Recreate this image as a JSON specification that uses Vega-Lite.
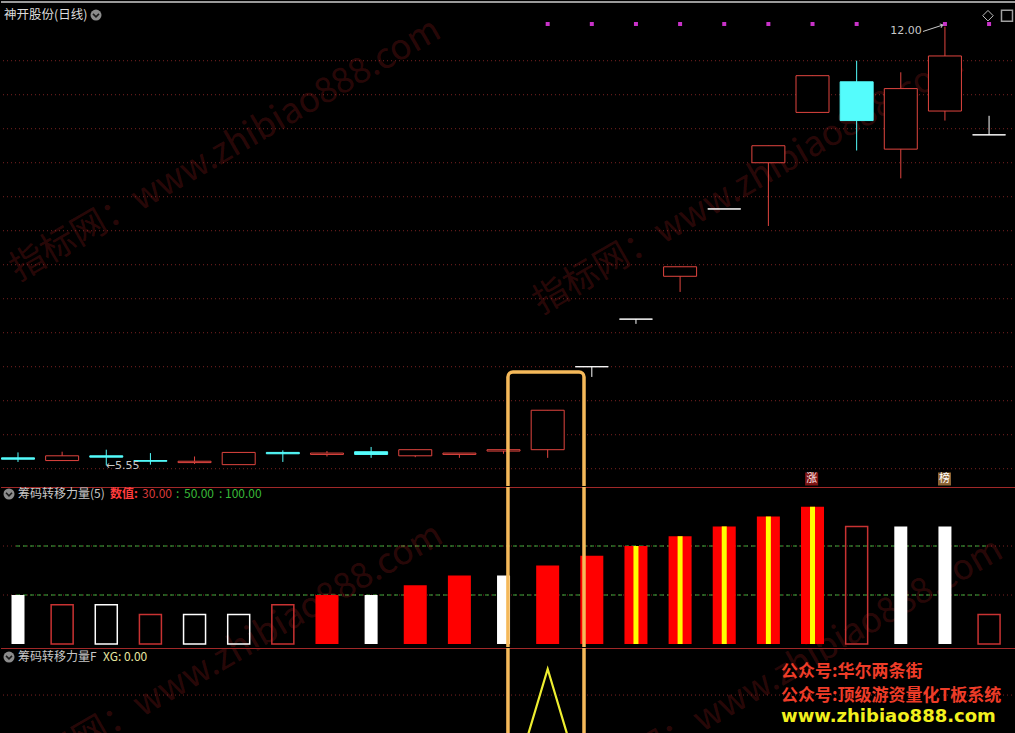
{
  "$schema": "https://vega.github.io/schema/vega-lite/v6.json",
  "background": "#000000",
  "padding": 0,
  "spacing": 0,
  "config": {
    "view": {"stroke": null},
    "axis": {"disable": true},
    "legend": {"disable": true},
    "text": {"font": "Noto Sans CJK SC"},
    "scale": {"continuousPadding": 0},
    "concat": {"spacing": 0}
  },
  "datasets": {
    "candles": [
      {"i": 1, "o": 5.66, "h": 5.74, "l": 5.60, "c": 5.64, "dir": "down"},
      {"i": 2, "o": 5.62, "h": 5.75, "l": 5.62, "c": 5.69, "dir": "up"},
      {"i": 3, "o": 5.69, "h": 5.78, "l": 5.55, "c": 5.67, "dir": "down"},
      {"i": 4, "o": 5.62, "h": 5.73, "l": 5.56, "c": 5.61, "dir": "down"},
      {"i": 5, "o": 5.59, "h": 5.68, "l": 5.57, "c": 5.61, "dir": "up"},
      {"i": 6, "o": 5.56, "h": 5.74, "l": 5.56, "c": 5.74, "dir": "up"},
      {"i": 7, "o": 5.74, "h": 5.77, "l": 5.60, "c": 5.72, "dir": "down"},
      {"i": 8, "o": 5.71, "h": 5.76, "l": 5.68, "c": 5.73, "dir": "up"},
      {"i": 9, "o": 5.75, "h": 5.82, "l": 5.66, "c": 5.71, "dir": "down"},
      {"i": 10, "o": 5.69, "h": 5.78, "l": 5.67, "c": 5.78, "dir": "up"},
      {"i": 11, "o": 5.71, "h": 5.73, "l": 5.66, "c": 5.73, "dir": "up"},
      {"i": 12, "o": 5.76, "h": 5.78, "l": 5.72, "c": 5.78, "dir": "up"},
      {"i": 13, "o": 5.78, "h": 6.36, "l": 5.66, "c": 6.36, "dir": "up"},
      {"i": 14, "o": 7.00, "h": 7.00, "l": 6.85, "c": 7.00, "dir": "flat"},
      {"i": 15, "o": 7.70, "h": 7.70, "l": 7.63, "c": 7.70, "dir": "flat"},
      {"i": 16, "o": 8.33, "h": 8.47, "l": 8.10, "c": 8.47, "dir": "up"},
      {"i": 17, "o": 9.32, "h": 9.32, "l": 9.32, "c": 9.32, "dir": "flat"},
      {"i": 18, "o": 10.00, "h": 10.25, "l": 9.07, "c": 10.25, "dir": "up"},
      {"i": 19, "o": 10.74, "h": 11.28, "l": 10.74, "c": 11.28, "dir": "up"},
      {"i": 20, "o": 11.19, "h": 11.50, "l": 10.18, "c": 10.62, "dir": "down"},
      {"i": 21, "o": 10.20, "h": 11.33, "l": 9.77, "c": 11.09, "dir": "up"},
      {"i": 22, "o": 10.76, "h": 12.00, "l": 10.62, "c": 11.57, "dir": "up"},
      {"i": 23, "o": 10.41, "h": 10.69, "l": 10.41, "c": 10.41, "dir": "flat"}
    ],
    "bars": [
      {"i": 1, "v": 30, "kind": "wf"},
      {"i": 2, "v": 26, "kind": "ro"},
      {"i": 3, "v": 26, "kind": "wo"},
      {"i": 4, "v": 22, "kind": "ro"},
      {"i": 5, "v": 22, "kind": "wo"},
      {"i": 6, "v": 22, "kind": "wo"},
      {"i": 7, "v": 26, "kind": "ro"},
      {"i": 8, "v": 30, "kind": "rf"},
      {"i": 9, "v": 30, "kind": "wf"},
      {"i": 10, "v": 34, "kind": "rf"},
      {"i": 11, "v": 38, "kind": "rf"},
      {"i": 12, "v": 38, "kind": "wf"},
      {"i": 13, "v": 42, "kind": "rf"},
      {"i": 14, "v": 46, "kind": "rf"},
      {"i": 15, "v": 50, "kind": "ry"},
      {"i": 16, "v": 54, "kind": "ry"},
      {"i": 17, "v": 58, "kind": "ry"},
      {"i": 18, "v": 62, "kind": "ry"},
      {"i": 19, "v": 66, "kind": "ry"},
      {"i": 20, "v": 58, "kind": "ro"},
      {"i": 21, "v": 58, "kind": "wf"},
      {"i": 22, "v": 58, "kind": "wf"},
      {"i": 23, "v": 22, "kind": "ro"}
    ],
    "xg": [
      {"i": 1, "xg": 0}, {"i": 2, "xg": 0}, {"i": 3, "xg": 0}, {"i": 4, "xg": 0},
      {"i": 5, "xg": 0}, {"i": 6, "xg": 0}, {"i": 7, "xg": 0}, {"i": 8, "xg": 0},
      {"i": 9, "xg": 0}, {"i": 10, "xg": 0}, {"i": 11, "xg": 0}, {"i": 12, "xg": 0},
      {"i": 13, "xg": 1}, {"i": 14, "xg": 0}, {"i": 15, "xg": 0}, {"i": 16, "xg": 0},
      {"i": 17, "xg": 0}, {"i": 18, "xg": 0}, {"i": 19, "xg": 0}, {"i": 20, "xg": 0},
      {"i": 21, "xg": 0}, {"i": 22, "xg": 0}, {"i": 23, "xg": 0}
    ],
    "sig": [
      {"i": 13}, {"i": 14}, {"i": 15}, {"i": 16}, {"i": 17},
      {"i": 18}, {"i": 19}, {"i": 20}, {"i": 22}, {"i": 23}
    ],
    "grid": [
      {"p": 5.5}, {"p": 6.0}, {"p": 6.5}, {"p": 7.0}, {"p": 7.5}, {"p": 8.0}, {"p": 8.5},
      {"p": 9.0}, {"p": 9.5}, {"p": 10.0}, {"p": 10.5}, {"p": 11.0}, {"p": 11.5}
    ],
    "levels": [{"lv": 30}, {"lv": 50}]
  },
  "vconcat": [
    {
      "width": 1015,
      "height": 486,
      "layer": [
        {
          "data": {"name": "grid"},
          "mark": {"type": "rule", "color": "#7a2222", "strokeDash": [1, 3], "strokeWidth": 1},
          "encoding": {"y": {"field": "p", "type": "quantitative", "scale": {"domain": [5.246, 12.393], "nice": false, "zero": false}}}
        },
        {
          "data": {"values": [{}]},
          "mark": {"type": "rule", "color": "#9a9a9a", "strokeWidth": 2},
          "encoding": {"y": {"datum": 12.365, "type": "quantitative"}}
        },
        {
          "data": {"values": [{}]},
          "mark": {"type": "text", "text": "指标网：www.zhibiao888.com", "angle": -30, "align": "left", "baseline": "middle", "fontSize": 35, "fill": "#ff3333", "fillOpacity": 0.18, "clip": true},
          "encoding": {"x": {"datum": 0.887, "type": "quantitative"}, "y": {"datum": 8.393, "type": "quantitative"}}
        },
        {
          "data": {"values": [{}]},
          "mark": {"type": "text", "text": "指标网：www.zhibiao888.com", "angle": -30, "align": "left", "baseline": "middle", "fontSize": 35, "fill": "#ff3333", "fillOpacity": 0.18, "clip": true},
          "encoding": {"x": {"datum": 12.735, "type": "quantitative"}, "y": {"datum": 7.908, "type": "quantitative"}}
        },
        {
          "data": {"name": "candles"},
          "mark": {"type": "rule", "strokeWidth": 1},
          "encoding": {
            "x": {"field": "i", "type": "quantitative", "scale": {"domain": [0.6149, 23.61], "nice": false, "zero": false, "padding": 0}},
            "y": {"field": "l", "type": "quantitative", "scale": {"domain": [5.246, 12.393], "nice": false, "zero": false}},
            "y2": {"field": "h"},
            "color": {"field": "dir", "type": "nominal", "scale": {"domain": ["up", "down", "flat"], "range": ["#e0453f", "#54fcfc", "#ffffff"]}, "legend": null}
          }
        },
        {
          "data": {"name": "candles"},
          "mark": {"type": "bar", "width": 33, "strokeWidth": 1},
          "encoding": {
            "x": {"field": "i", "type": "quantitative", "scale": {"domain": [0.6149, 23.61], "nice": false, "zero": false, "padding": 0}},
            "y": {"field": "o", "type": "quantitative", "scale": {"domain": [5.246, 12.393], "nice": false, "zero": false}},
            "y2": {"field": "c"},
            "fill": {"field": "dir", "type": "nominal", "scale": {"domain": ["up", "down", "flat"], "range": ["#000000", "#54fcfc", "#ffffff"]}, "legend": null},
            "stroke": {"field": "dir", "type": "nominal", "scale": {"domain": ["up", "down", "flat"], "range": ["#e0453f", "#54fcfc", "#ffffff"]}, "legend": null}
          }
        },
        {
          "data": {"name": "sig"},
          "mark": {"type": "point", "shape": "square", "filled": true, "size": 16, "color": "#c832c8", "opacity": 1},
          "encoding": {
            "x": {"field": "i", "type": "quantitative"},
            "y": {"datum": 12.04, "type": "quantitative"}
          }
        },
        {
          "data": {"values": [{}]},
          "mark": {"type": "text", "text": "←5.55", "align": "left", "baseline": "middle", "fontSize": 11, "font": "DejaVu Sans", "fill": "#c8c8c8"},
          "encoding": {"x": {"datum": 2.99, "type": "quantitative"}, "y": {"datum": 5.54, "type": "quantitative"}}
        },
        {
          "data": {"values": [{}]},
          "mark": {"type": "text", "text": "12.00", "align": "right", "baseline": "middle", "fontSize": 11, "font": "DejaVu Sans", "fill": "#c8c8c8"},
          "encoding": {"x": {"datum": 21.474, "type": "quantitative"}, "y": {"datum": 11.93, "type": "quantitative"}}
        },
        {
          "data": {"values": [{}]},
          "mark": {"type": "rule", "color": "#c8c8c8", "strokeWidth": 1},
          "encoding": {
            "x": {"datum": 21.503, "type": "quantitative"}, "x2": {"datum": 21.95},
            "y": {"datum": 11.93, "type": "quantitative"}, "y2": {"datum": 12.025}
          }
        },
        {
          "data": {"values": [{}]},
          "mark": {"type": "point", "shape": "M-1,-0.8L0,0L-1,0.8", "filled": false, "stroke": "#c8c8c8", "strokeWidth": 1, "size": 25, "angle": -17, "opacity": 1},
          "encoding": {"x": {"datum": 21.95, "type": "quantitative"}, "y": {"datum": 12.025, "type": "quantitative"}}
        },
        {
          "data": {"values": [{}]},
          "mark": {"type": "point", "shape": "square", "filled": true, "size": 169, "color": "#7d1414", "opacity": 1},
          "encoding": {"x": {"datum": 18.98, "type": "quantitative"}, "y": {"datum": 5.349, "type": "quantitative"}}
        },
        {
          "data": {"values": [{}]},
          "mark": {"type": "text", "text": "涨", "align": "center", "baseline": "middle", "fontSize": 11, "fill": "#ffe8e8"},
          "encoding": {"x": {"datum": 18.98, "type": "quantitative"}, "y": {"datum": 5.349, "type": "quantitative"}}
        },
        {
          "data": {"values": [{}]},
          "mark": {"type": "point", "shape": "square", "filled": true, "size": 169, "color": "#8c6434", "opacity": 1},
          "encoding": {"x": {"datum": 21.99, "type": "quantitative"}, "y": {"datum": 5.349, "type": "quantitative"}}
        },
        {
          "data": {"values": [{}]},
          "mark": {"type": "text", "text": "榜", "align": "center", "baseline": "middle", "fontSize": 11, "fill": "#ffffff"},
          "encoding": {"x": {"datum": 21.99, "type": "quantitative"}, "y": {"datum": 5.349, "type": "quantitative"}}
        },
        {
          "data": {"values": [{}]},
          "mark": {"type": "text", "text": "神开股份(日线)", "align": "left", "baseline": "middle", "fontSize": 12.5, "fill": "#dcdcdc"},
          "encoding": {"x": {"datum": 0.683, "type": "quantitative"}, "y": {"datum": 12.172, "type": "quantitative"}}
        },
        {
          "data": {"values": [{}]},
          "mark": {"type": "point", "shape": "circle", "filled": true, "size": 121, "color": "#8c8c8c", "opacity": 1},
          "encoding": {"x": {"datum": 2.767, "type": "quantitative"}, "y": {"datum": 12.172, "type": "quantitative"}}
        },
        {
          "data": {"values": [{}]},
          "mark": {"type": "point", "shape": "M-0.5,-0.2L0,0.3L0.5,-0.2", "filled": false, "stroke": "#1a1a1a", "strokeWidth": 1.6, "size": 144, "opacity": 1},
          "encoding": {"x": {"datum": 2.767, "type": "quantitative"}, "y": {"datum": 12.172, "type": "quantitative"}}
        },
        {
          "data": {"values": [{}]},
          "mark": {"type": "point", "shape": "diamond", "filled": false, "stroke": "#c0c0c0", "strokeWidth": 1, "size": 110, "opacity": 1},
          "encoding": {"x": {"datum": 22.975, "type": "quantitative"}, "y": {"datum": 12.162, "type": "quantitative"}}
        },
        {
          "data": {"values": [{}]},
          "mark": {"type": "point", "shape": "square", "filled": false, "stroke": "#a0a0a0", "strokeWidth": 1.5, "size": 121, "opacity": 1},
          "encoding": {"x": {"datum": 23.406, "type": "quantitative"}, "y": {"datum": 12.162, "type": "quantitative"}}
        },
        {
          "data": {"values": [{}]},
          "mark": {"type": "rect", "fill": "transparent", "stroke": "#f5b95a", "strokeWidth": 3.5, "cornerRadius": 5, "clip": true},
          "encoding": {
            "x": {"datum": 12.10, "type": "quantitative"}, "x2": {"datum": 13.823},
            "y": {"datum": 6.922, "type": "quantitative"}, "y2": {"datum": 4.0}
          }
        }
      ]
    },
    {
      "width": 1015,
      "height": 160,
      "layer": [
        {
          "data": {"name": "levels"},
          "mark": {"type": "rule", "color": "#7a2222", "strokeDash": [1, 3], "strokeWidth": 1},
          "encoding": {"y": {"field": "lv", "type": "quantitative", "scale": {"domain": [8.78, 74.08], "nice": false, "zero": false}}}
        },
        {
          "data": {"name": "levels"},
          "mark": {"type": "rule", "color": "#3caa3c", "strokeDash": [4, 3], "strokeWidth": 1},
          "encoding": {
            "x": {"datum": 0.955, "type": "quantitative"}, "x2": {"datum": 22.93},
            "y": {"field": "lv", "type": "quantitative"}
          }
        },
        {
          "data": {"values": [{}]},
          "mark": {"type": "text", "text": "指标网：www.zhibiao888.com", "angle": -30, "align": "left", "baseline": "middle", "fontSize": 35, "fill": "#ff3333", "fillOpacity": 0.18, "clip": true},
          "encoding": {"x": {"datum": 0.932, "type": "quantitative"}, "y": {"datum": -44.29, "type": "quantitative"}}
        },
        {
          "data": {"values": [{}]},
          "mark": {"type": "text", "text": "指标网：www.zhibiao888.com", "angle": -30, "align": "left", "baseline": "middle", "fontSize": 35, "fill": "#ff3333", "fillOpacity": 0.18, "clip": true},
          "encoding": {"x": {"datum": 13.62, "type": "quantitative"}, "y": {"datum": -50.41, "type": "quantitative"}}
        },
        {
          "data": {"name": "bars"},
          "transform": [{"filter": {"field": "kind", "equal": "wo"}}],
          "mark": {"type": "bar", "width": 22, "fill": "transparent", "stroke": "#ffffff", "strokeWidth": 1.5},
          "encoding": {
            "x": {"field": "i", "type": "quantitative", "scale": {"domain": [0.6149, 23.61], "nice": false, "zero": false, "padding": 0}},
            "y": {"field": "v", "type": "quantitative", "scale": {"domain": [8.78, 74.08], "nice": false, "zero": false}},
            "y2": {"datum": 10}
          }
        },
        {
          "data": {"name": "bars"},
          "transform": [{"filter": {"field": "kind", "equal": "ro"}}],
          "mark": {"type": "bar", "width": 22, "fill": "transparent", "stroke": "#c83232", "strokeWidth": 1.5},
          "encoding": {
            "x": {"field": "i", "type": "quantitative", "scale": {"domain": [0.6149, 23.61], "nice": false, "zero": false, "padding": 0}},
            "y": {"field": "v", "type": "quantitative"},
            "y2": {"datum": 10}
          }
        },
        {
          "data": {"name": "bars"},
          "transform": [{"filter": {"field": "kind", "oneOf": ["rf", "ry"]}}],
          "mark": {"type": "bar", "width": 23, "fill": "#ff0000"},
          "encoding": {
            "x": {"field": "i", "type": "quantitative", "scale": {"domain": [0.6149, 23.61], "nice": false, "zero": false, "padding": 0}},
            "y": {"field": "v", "type": "quantitative"},
            "y2": {"datum": 10}
          }
        },
        {
          "data": {"name": "bars"},
          "transform": [{"filter": {"field": "kind", "equal": "ry"}}],
          "mark": {"type": "bar", "width": 5, "fill": "#ffff00"},
          "encoding": {
            "x": {"field": "i", "type": "quantitative", "scale": {"domain": [0.6149, 23.61], "nice": false, "zero": false, "padding": 0}},
            "y": {"field": "v", "type": "quantitative"},
            "y2": {"datum": 10}
          }
        },
        {
          "data": {"name": "bars"},
          "transform": [{"filter": {"field": "kind", "equal": "wf"}}],
          "mark": {"type": "bar", "width": 13, "fill": "#ffffff"},
          "encoding": {
            "x": {"field": "i", "type": "quantitative", "scale": {"domain": [0.6149, 23.61], "nice": false, "zero": false, "padding": 0}},
            "y": {"field": "v", "type": "quantitative"},
            "y2": {"datum": 10}
          }
        },
        {
          "data": {"values": [{}]},
          "mark": {"type": "rule", "color": "#a02828", "strokeWidth": 1.2},
          "encoding": {"y": {"datum": 73.88, "type": "quantitative"}}
        },
        {
          "data": {"values": [{}]},
          "mark": {"type": "point", "shape": "circle", "filled": true, "size": 121, "color": "#8c8c8c", "opacity": 1},
          "encoding": {"x": {"datum": 0.796, "type": "quantitative"}, "y": {"datum": 71.22, "type": "quantitative"}}
        },
        {
          "data": {"values": [{}]},
          "mark": {"type": "point", "shape": "M-0.5,-0.2L0,0.3L0.5,-0.2", "filled": false, "stroke": "#1a1a1a", "strokeWidth": 1.6, "size": 144, "opacity": 1},
          "encoding": {"x": {"datum": 0.796, "type": "quantitative"}, "y": {"datum": 71.22, "type": "quantitative"}}
        },
        {
          "data": {"values": [{}]},
          "mark": {"type": "text", "text": "筹码转移力量(5)", "align": "left", "baseline": "middle", "fontSize": 12, "fill": "#c8c8c8"},
          "encoding": {"x": {"datum": 1.0, "type": "quantitative"}, "y": {"datum": 71.22, "type": "quantitative"}}
        },
        {
          "data": {"values": [{}]},
          "mark": {"type": "text", "text": "数值:", "align": "left", "baseline": "middle", "fontSize": 12, "fontWeight": "bold", "fill": "#ff3c3c"},
          "encoding": {"x": {"datum": 3.084, "type": "quantitative"}, "y": {"datum": 71.22, "type": "quantitative"}}
        },
        {
          "data": {"values": [{}]},
          "mark": {"type": "text", "text": "30.00", "align": "left", "baseline": "middle", "fontSize": 12, "fill": "#d83a3a"},
          "encoding": {"x": {"datum": 3.809, "type": "quantitative"}, "y": {"datum": 71.22, "type": "quantitative"}}
        },
        {
          "data": {"values": [{}]},
          "mark": {"type": "text", "text": ":", "align": "left", "baseline": "middle", "fontSize": 12, "fill": "#38b838"},
          "encoding": {"x": {"datum": 4.58, "type": "quantitative"}, "y": {"datum": 71.22, "type": "quantitative"}}
        },
        {
          "data": {"values": [{}]},
          "mark": {"type": "text", "text": "50.00", "align": "left", "baseline": "middle", "fontSize": 12, "fill": "#38b838"},
          "encoding": {"x": {"datum": 4.761, "type": "quantitative"}, "y": {"datum": 71.22, "type": "quantitative"}}
        },
        {
          "data": {"values": [{}]},
          "mark": {"type": "text", "text": ":", "align": "left", "baseline": "middle", "fontSize": 12, "fill": "#38b838"},
          "encoding": {"x": {"datum": 5.554, "type": "quantitative"}, "y": {"datum": 71.22, "type": "quantitative"}}
        },
        {
          "data": {"values": [{}]},
          "mark": {"type": "text", "text": "100.00", "align": "left", "baseline": "middle", "fontSize": 12, "fill": "#38b838"},
          "encoding": {"x": {"datum": 5.69, "type": "quantitative"}, "y": {"datum": 71.22, "type": "quantitative"}}
        },
        {
          "data": {"values": [{}]},
          "mark": {"type": "rect", "fill": "transparent", "stroke": "#f5b95a", "strokeWidth": 3.5, "clip": true},
          "encoding": {
            "x": {"datum": 12.10, "type": "quantitative"}, "x2": {"datum": 13.823},
            "y": {"datum": 200, "type": "quantitative"}, "y2": {"datum": -100}
          }
        }
      ]
    },
    {
      "width": 1015,
      "height": 87,
      "layer": [
        {
          "data": {"values": [{}]},
          "mark": {"type": "rule", "color": "#7a2222", "strokeDash": [1, 3], "strokeWidth": 1},
          "encoding": {"y": {"datum": 0.824, "type": "quantitative", "scale": {"domain": [0.554, 1.142], "nice": false, "zero": false}}}
        },
        {
          "data": {"values": [{}]},
          "mark": {"type": "text", "text": "指标网：www.zhibiao888.com", "angle": -30, "align": "left", "baseline": "middle", "fontSize": 35, "fill": "#ff3333", "fillOpacity": 0.18, "clip": true},
          "encoding": {"x": {"datum": 0.932, "type": "quantitative"}, "y": {"datum": 0.2636, "type": "quantitative"}}
        },
        {
          "data": {"values": [{}]},
          "mark": {"type": "text", "text": "指标网：www.zhibiao888.com", "angle": -30, "align": "left", "baseline": "middle", "fontSize": 35, "fill": "#ff3333", "fillOpacity": 0.18, "clip": true},
          "encoding": {"x": {"datum": 13.62, "type": "quantitative"}, "y": {"datum": 0.1623, "type": "quantitative"}}
        },
        {
          "data": {"values": [{}]},
          "mark": {"type": "rule", "color": "#a02828", "strokeWidth": 1.2},
          "encoding": {"y": {"datum": 1.1386, "type": "quantitative"}}
        },
        {
          "data": {"name": "xg"},
          "mark": {"type": "line", "color": "#eeee30", "strokeWidth": 2.2, "clip": true},
          "encoding": {
            "x": {"field": "i", "type": "quantitative", "scale": {"domain": [0.6149, 23.61], "nice": false, "zero": false, "padding": 0}},
            "y": {"field": "xg", "type": "quantitative", "scale": {"domain": [0.554, 1.142], "nice": false, "zero": false}}
          }
        },
        {
          "data": {"values": [{}]},
          "mark": {"type": "point", "shape": "circle", "filled": true, "size": 121, "color": "#8c8c8c", "opacity": 1},
          "encoding": {"x": {"datum": 0.796, "type": "quantitative"}, "y": {"datum": 1.081, "type": "quantitative"}}
        },
        {
          "data": {"values": [{}]},
          "mark": {"type": "point", "shape": "M-0.5,-0.2L0,0.3L0.5,-0.2", "filled": false, "stroke": "#1a1a1a", "strokeWidth": 1.6, "size": 144, "opacity": 1},
          "encoding": {"x": {"datum": 0.796, "type": "quantitative"}, "y": {"datum": 1.081, "type": "quantitative"}}
        },
        {
          "data": {"values": [{}]},
          "mark": {"type": "text", "text": "筹码转移力量F", "align": "left", "baseline": "middle", "fontSize": 12, "fill": "#c8c8c8"},
          "encoding": {"x": {"datum": 1.0, "type": "quantitative"}, "y": {"datum": 1.081, "type": "quantitative"}}
        },
        {
          "data": {"values": [{}]},
          "mark": {"type": "text", "text": "XG: 0.00", "align": "left", "baseline": "middle", "fontSize": 12, "fill": "#e6e6a0"},
          "encoding": {"x": {"datum": 2.926, "type": "quantitative"}, "y": {"datum": 1.081, "type": "quantitative"}}
        },
        {
          "data": {"values": [{}]},
          "mark": {"type": "text", "text": "公众号:华尔两条街", "align": "left", "baseline": "middle", "fontSize": 17, "fontWeight": "bold", "fill": "#ee3c28"},
          "encoding": {"x": {"datum": 18.286, "type": "quantitative"}, "y": {"datum": 0.98, "type": "quantitative"}}
        },
        {
          "data": {"values": [{}]},
          "mark": {"type": "text", "text": "公众号:顶级游资量化T板系统", "align": "left", "baseline": "middle", "fontSize": 17, "fontWeight": "bold", "fill": "#ee3c28"},
          "encoding": {"x": {"datum": 18.286, "type": "quantitative"}, "y": {"datum": 0.818, "type": "quantitative"}}
        },
        {
          "data": {"values": [{}]},
          "mark": {"type": "text", "text": "www.zhibiao888.com", "align": "left", "baseline": "middle", "fontSize": 18, "fontWeight": "bold", "font": "DejaVu Sans", "fill": "#f2f01e"},
          "encoding": {"x": {"datum": 18.286, "type": "quantitative"}, "y": {"datum": 0.676, "type": "quantitative"}}
        },
        {
          "data": {"values": [{}]},
          "mark": {"type": "rect", "fill": "transparent", "stroke": "#f5b95a", "strokeWidth": 3.5, "clip": true},
          "encoding": {
            "x": {"datum": 12.10, "type": "quantitative"}, "x2": {"datum": 13.823},
            "y": {"datum": 2, "type": "quantitative"}, "y2": {"datum": -1}
          }
        }
      ]
    }
  ]
}
